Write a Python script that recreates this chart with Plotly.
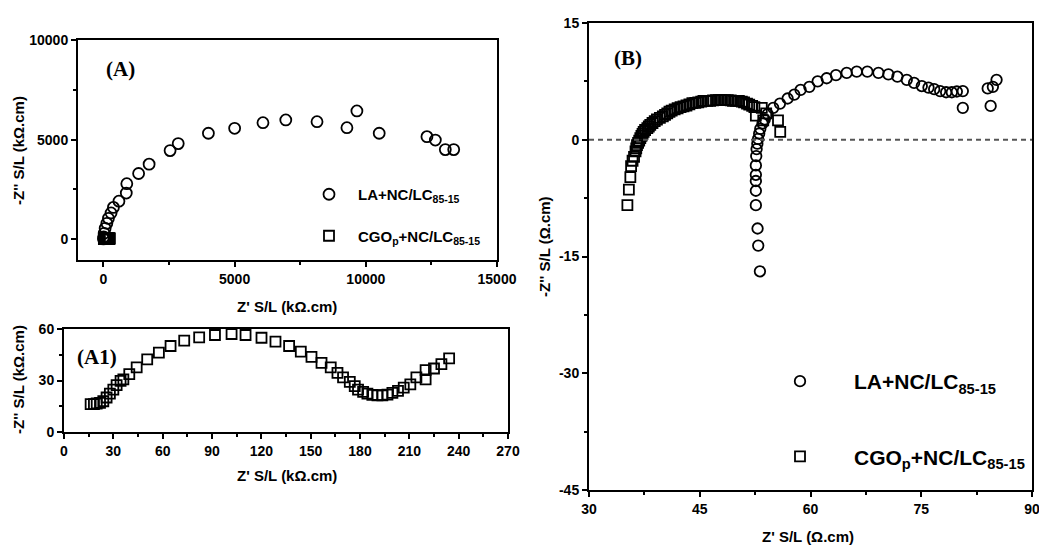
import plotly.graph_objects as go

# ---------------- data ----------------
# Panel A : LA+NC/LC85-15 (kOhm.cm)
a_la_x = [13350, 13030, 12650, 12330, 10510, 9660, 9280, 8140, 6950, 6080, 5000, 4000,
          2850, 2540, 1740, 1340, 890, 870, 590, 380, 290, 190, 130, 65, 27, 8, 0]
a_la_y = [4500, 4500, 4980, 5150, 5320, 6440, 5600, 5900, 5990, 5850, 5570, 5320,
          4800, 4450, 3770, 3300, 2790, 2320, 1910, 1600, 1320, 1050, 800, 550, 300, 120, 20]

# Panel A1 (also shown in A) : CGOp+NC/LC85-15 (kOhm.cm)
a1_x = [16.2, 18.2, 19.9, 21.9, 23.9, 25.9, 27.9, 30.0, 32.0, 34.4, 36.1, 39.7, 44.2,
        50.6, 57.7, 64.8, 73.1, 82.2, 91.8, 101.9, 110.4, 120.1, 128.6, 136.9, 144.0,
        150.5, 156.6, 162.2, 166.3, 169.7, 173.8, 176.8, 178.8, 181.9, 184.5, 187.5,
        190.6, 193.6, 196.7, 199.7, 203.1, 206.6, 210.6, 214.3, 219.9, 219.9, 225.0,
        229.5, 234.2]
a1_y = [16.2, 16.2, 16.6, 17.0, 17.9, 20.1, 22.4, 24.7, 27.3, 29.8, 30.6, 33.7, 37.6,
        42.3, 46.2, 50.1, 53.2, 55.1, 56.5, 57.1, 56.5, 54.9, 52.6, 50.1, 46.8,
        43.8, 40.3, 37.6, 34.5, 31.8, 29.2, 26.7, 24.7, 23.4, 22.4, 21.6,
        21.4, 21.4, 21.8, 22.8, 24.0, 25.9, 27.7, 31.8, 30.6, 36.0, 37.0,
        39.5, 42.9]

# Panel B : LA+NC/LC85-15 (Ohm.cm)
b_la_x = [53.15, 52.92, 52.83, 52.60, 52.60, 52.60, 52.60, 52.60, 52.65, 52.70, 52.80,
          52.90, 53.05, 53.20, 53.50, 53.80, 54.20, 54.95, 55.86, 56.90, 57.80, 58.66,
          59.84, 60.97, 62.19, 63.45, 64.90, 66.26, 67.70, 69.20, 70.55, 71.77, 73.04,
          74.03, 75.07, 75.98, 76.75, 77.56, 78.37, 79.14, 79.82, 80.63, 80.63, 84.00,
          84.40, 84.70, 85.20]
b_la_y = [-16.9, -13.6, -11.4, -8.4, -6.55, -5.3, -4.5, -3.3, -2.1, -1.2, -0.5,
          0.1, 0.8, 1.4, 2.1, 2.6, 3.3, 4.1, 4.65, 5.3, 5.8, 6.4,
          6.8, 7.5, 7.9, 8.3, 8.6, 8.75, 8.75, 8.6, 8.4, 8.1, 7.7,
          7.3, 6.9, 6.7, 6.5, 6.25, 6.1, 6.1, 6.2, 6.25, 4.1, 6.6,
          4.35, 6.8, 7.7]

# Panel B : CGOp+NC/LC85-15 (Ohm.cm)
b_cgo_x = [35.2, 35.4, 35.6, 35.7, 35.9, 36.1, 36.3, 36.4, 36.5, 36.65, 36.8, 36.95,
           37.1, 37.25, 37.4, 37.6, 37.9, 38.1, 38.3, 38.6, 38.9, 39.2, 39.6, 40.0,
           40.3, 40.6, 40.9, 41.2, 41.6, 42.0, 42.4, 42.8, 43.2, 43.6, 44.0, 44.4,
           44.8, 45.2, 45.5, 46.0, 46.4, 46.8, 47.2, 47.6, 47.9, 48.4, 48.8, 49.2,
           49.5, 49.9, 50.3, 50.7, 51.0, 51.4, 51.7, 52.1, 52.4, 52.6, 53.4, 53.6,
           54.0, 55.6, 55.9]
b_cgo_y = [-8.4, -6.4, -4.8, -3.4, -2.7, -2.2, -1.5, -1.1, -0.7, -0.4, -0.1, 0.2,
           0.5, 0.75, 1.0, 1.25, 1.5, 1.7, 1.9, 2.15, 2.4, 2.6, 2.8, 3.0,
           3.2, 3.4, 3.6, 3.75, 3.9, 4.05, 4.2, 4.3, 4.4, 4.55, 4.7, 4.75,
           4.8, 4.9, 5.0, 5.0, 5.0, 5.05, 5.1, 5.1, 5.1, 5.1, 5.1, 5.05,
           5.0, 5.0, 5.0, 4.9, 4.8, 4.65, 4.5, 4.35, 4.2, 3.1, 4.1, 2.5,
           3.4, 2.5, 1.0]

# tick labels
a_xticks = [0, 5000, 10000, 15000]
a_yticks = [0, 5000, 10000]
a1_xticks = [0, 30, 60, 90, 120, 150, 180, 210, 240, 270]
a1_yticks = [0, 30, 60]
b_xticks = [30, 45, 60, 75, 90]
b_yticks = [15, 0, -15, -30, -45]
b_yticktext = ["15", "0", "-15", "-30", "-45"]

name_la = "LA+NC/LC<sub>85-15</sub>"
name_cgo = "CGO<sub>p</sub>+NC/LC<sub>85-15</sub>"

# ---------------- figure ----------------
W, H = 1039, 545
def px_x(p):
    return p / W
def px_y(p):
    return 1 - p / H

fig = go.Figure()

mk_c = lambda s: dict(symbol="circle-open", size=s, color="black", line=dict(width=1.8, color="black"))
mk_s = lambda s: dict(symbol="square-open", size=s, color="black", line=dict(width=1.8, color="black"))

fig.add_trace(go.Scatter(x=a_la_x, y=a_la_y, mode="markers", marker=mk_c(11),
                         name=name_la, xaxis="x", yaxis="y", legend="legend",
                         legendgroup="a1", legendrank=1))
fig.add_trace(go.Scatter(x=a1_x, y=a1_y, mode="markers", marker=mk_s(10),
                         name=name_cgo, xaxis="x", yaxis="y", legend="legend",
                         legendgroup="a2", legendrank=2))
fig.add_trace(go.Scatter(x=a1_x, y=a1_y, mode="markers", marker=mk_s(10),
                         showlegend=False, xaxis="x2", yaxis="y2"))
fig.add_trace(go.Scatter(x=b_cgo_x, y=b_cgo_y, mode="markers", marker=mk_s(10),
                         name=name_cgo, xaxis="x3", yaxis="y3", legend="legend2",
                         legendgroup="b2", legendrank=2))
fig.add_trace(go.Scatter(x=b_la_x, y=b_la_y, mode="markers", marker=mk_c(10.5),
                         name=name_la, xaxis="x3", yaxis="y3", legend="legend2",
                         legendgroup="b1", legendrank=1))

tickfont = dict(family="Liberation Sans", size=14, color="black", weight="bold")

def axis(domain, rng, tickvals, ticktext=None, minor=None, anchor=None):
    d = dict(domain=domain, range=rng, tickvals=tickvals,
             ticktext=ticktext if ticktext is not None else [str(v) for v in tickvals],
             showgrid=False, zeroline=False, automargin=False, ticklabeloverflow="allow",
             showline=True, linecolor="black", linewidth=2, mirror=True,
             ticks="outside", ticklen=5, tickwidth=1.5, tickcolor="black",
             tickfont=tickfont, anchor=anchor)
    if minor is not None:
        d["minor"] = dict(tickvals=minor, ticks="outside", ticklen=3, tickwidth=1.5,
                          tickcolor="black", showgrid=False)
    return d

fig.update_layout(
    width=W, height=H, margin=dict(l=0, r=0, t=0, b=0, autoexpand=False),
    plot_bgcolor="white", paper_bgcolor="white",
    xaxis=axis([px_x(78), px_x(497)], [-970, 15000], a_xticks,
               minor=[2500, 7500, 12500], anchor="y"),
    yaxis=axis([px_y(260), px_y(40)], [-1040, 10000], a_yticks,
               minor=[2500, 7500], anchor="x"),
    xaxis2=axis([px_x(64), px_x(508)], [0, 270], a1_xticks,
                minor=[15, 45, 75, 105, 135, 165, 195, 225, 255], anchor="y2"),
    yaxis2=axis([px_y(432), px_y(329)], [0, 60], a1_yticks,
                minor=[15, 45], anchor="x2"),
    xaxis3=axis([px_x(589), px_x(1032)], [30, 90], b_xticks,
                minor=[37.5, 52.5, 67.5, 82.5], anchor="y3"),
    yaxis3=axis([px_y(490), px_y(23)], [-45, 15], b_yticks, ticktext=b_yticktext,
                minor=[7.5, -7.5, -22.5, -37.5], anchor="x3"),
    legend=dict(x=px_x(300), y=px_y(178), xanchor="left", yanchor="top",
                bgcolor="rgba(0,0,0,0)", itemwidth=48, traceorder="grouped",
                tracegroupgap=19,
                font=dict(family="Liberation Sans", size=15, color="black", weight="bold")),
    legend2=dict(x=px_x(746), y=px_y(361), xanchor="left", yanchor="top",
                 bgcolor="rgba(0,0,0,0)", itemwidth=98, traceorder="grouped",
                 tracegroupgap=45,
                 font=dict(family="Liberation Sans", size=21, color="black", weight="bold")),
    showlegend=True,
)

# dashed zero line in panel B
fig.add_shape(type="line", xref="x3 domain", yref="y3", x0=0, x1=1, y0=0, y1=0,
              line=dict(color="#555555", width=1.8, dash="5px,4px"))

title_font = dict(family="Liberation Sans", size=15, color="black", weight="bold")
label_font = dict(family="Liberation Serif", size=21, color="black", weight="bold")

ann = [
    dict(text="Z' S/L (kΩ.cm)", x=px_x(287), y=px_y(306), font=title_font),
    dict(text="Z' S/L (kΩ.cm)", x=px_x(287), y=px_y(475), font=title_font),
    dict(text="Z' S/L (Ω.cm)", x=px_x(808), y=px_y(536), font=title_font),
    dict(text="-Z'' S/L (kΩ.cm)", x=px_x(18), y=px_y(151), font=title_font, textangle=-90),
    dict(text="-Z'' S/L (kΩ.cm)", x=px_x(18), y=px_y(380), font=title_font, textangle=-90),
    dict(text="-Z'' S/L (Ω.cm)", x=px_x(544), y=px_y(247), font=title_font, textangle=-90),
    dict(text="(A)", x=px_x(120), y=px_y(69), font=label_font),
    dict(text="(A1)", x=px_x(97), y=px_y(357), font=label_font),
    dict(text="(B)", x=px_x(628), y=px_y(58), font=label_font),
]
for a in ann:
    fig.add_annotation(xref="paper", yref="paper", showarrow=False,
                       xanchor="center", yanchor="middle", **a)

fig.write_html("out.html", config={"displayModeBar": False},
               post_script="document.body.style.margin='0';document.body.style.overflow='hidden';")
